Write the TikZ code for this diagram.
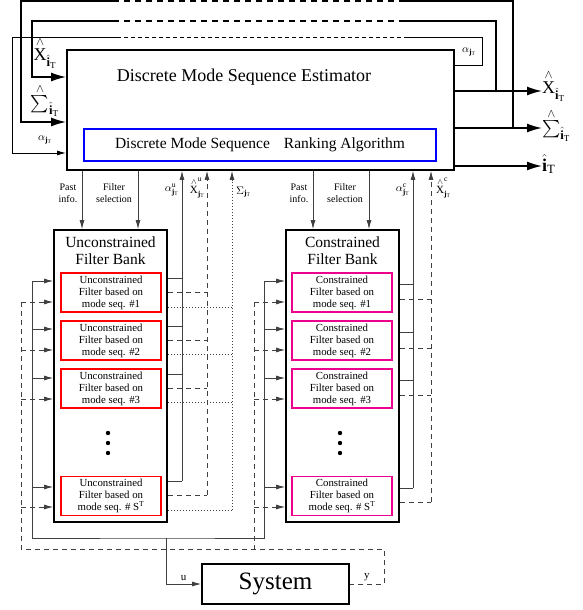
\documentclass[tikz,border=0pt]{standalone}
\usepackage{fontspec}
\setmainfont{Liberation Serif}
\usepackage{amsmath}
\usetikzlibrary{arrows.meta,positioning}
\newcommand{\hatc}[1]{\overset{\scriptstyle\wedge}{#1}}

\begin{document}
\begin{tikzpicture}[x=1pt,y=-1pt,
	box/.style={draw,line width=1.8pt,inner sep=0pt},
	ufilt/.style={draw=red,line width=1.1pt,minimum width=100pt,minimum height=39pt,inner sep=0pt,align=center,font=\fontsize{10.8}{12}\selectfont},
	cfilt/.style={ufilt,draw=magenta},
	sig/.style={draw=black!75,line width=0.8pt},
	dsh/.style={dash pattern=on 5pt off 4pt},
	dts/.style={dash pattern=on 1.5pt off 1.5pt},
	arr/.style={-{Latex[length=9pt,width=5pt]}},
	loopw/.style={line width=1.6pt},
	fat/.style={loopw,-{Latex[length=15pt,width=9pt]}},
	gap/.style={dash pattern=on 6pt off 5pt},
	lbl/.style={font=\fontsize{11}{12}\selectfont,inner sep=0pt},
	big/.style={font=\fontsize{18}{20}\selectfont,inner sep=0pt},
	small/.style={font=\fontsize{10}{12}\selectfont,align=center,inner sep=0pt}]
	\useasboundingbox (0,0) rectangle (582,610);

	\node[box,minimum width=387pt,minimum height=120pt] (est) at (260.5,110) {};
	\node[font=\fontsize{18}{20}\selectfont] (title) at (244,77) {Discrete Mode Sequence Estimator};
	\node[draw=blue,line width=1.1pt,minimum width=352pt,minimum height=32pt,font=\fontsize{15.5}{17}\selectfont] (rank) at (260,145) {Discrete Mode Sequence\hspace{14pt}Ranking Algorithm\hspace{15pt}};

	\node[box,minimum width=113pt,minimum height=292pt] (ubank) at (110.5,376) {};
	\node[box,minimum width=113pt,minimum height=292pt] (cbank) at (342.5,376) {};
	\node[align=center,font=\fontsize{15.5}{17}\selectfont] (utitle) at (110.5,251) {Unconstrained\\Filter Bank};
	\node[align=center,font=\fontsize{15.5}{17}\selectfont] (ctitle) at (342.5,251) {Constrained\\Filter Bank};
	\foreach \i/\y in {1/292.5,2/340.5,3/388.5}{
		\node[ufilt] (uf\i) at (111,\y) {Unconstrained\\Filter based on\\mode seq. \#\i};
		\node[cfilt] (cf\i) at (342,\y) {Constrained\\Filter based on\\mode seq. \#\i};
	}
	\node[ufilt] (uf4) at (111,496) {Unconstrained\\Filter based on\\mode seq. \# S$^{\mathrm{T}}$};
	\node[cfilt] (cf4) at (342,496) {Constrained\\Filter based on\\mode seq. \# S$^{\mathrm{T}}$};
	\foreach \y in {433,443,453}{
		\fill (108,\y) circle (2.2pt);
		\fill (340,\y) circle (2.2pt);
	}
	\node[box,minimum width=147pt,minimum height=40pt,font=\fontsize{25}{27}\selectfont] (sys) at (275.5,584) {System};

	% outputs and feedback
	\node[big,anchor=west] (oX) at (542,86) {$\hatc{\textrm{X}}_{\hat{\mathbf{i}}_\mathrm{T}}$};
	\node[big,anchor=west] (oS) at (542,125) {$\hatc{\sum}_{\hat{\mathbf{i}}_\mathrm{T}}$};
	\node[big,anchor=west] (oI) at (542,164) {$\hat{\mathbf{i}}_\mathrm{T}$};
	\node[big] (iX) at (45,53) {$\hatc{\textrm{X}}_{\hat{\mathbf{i}}_\mathrm{T}}$};
	\node[big] (iS) at (45,100) {$\hatc{\sum}_{\hat{\mathbf{i}}_\mathrm{T}}$};
	\node[lbl] (iA) at (45,140) {$\alpha_{\mathbf{j}_\mathrm{T}}$};
	\node[lbl] (oA) at (469,52) {$\alpha_{\mathbf{j}_\mathrm{T}}$};
	\draw[fat] (est.east |- 0,91) -- (oX.west |- 0,91);
	\draw[fat] (est.east |- 0,128) -- (oS.west |- 0,128);
	\draw[fat] (est.east |- 0,166) -- (oI.west |- 0,166);

	\coordinate (sR) at (513,1);  \coordinate (sRd) at (405,1);  \coordinate (sLd) at (117,1);  \coordinate (sL) at (21,1);
	\coordinate (xR) at (496,21); \coordinate (xRd) at (405,21); \coordinate (xLd) at (117,21); \coordinate (xL) at (32,21);
	\coordinate (aR) at (482,38); \coordinate (aRd) at (408,38); \coordinate (aLd) at (117,38); \coordinate (aL) at (12,38);
	\draw[loopw] (sR |- 0,128) -- (sR) -- (sRd);
	\draw[loopw,gap] (sRd) -- (sLd);
	\draw[fat] (sLd) -- (sL) |- (est.west |- 0,122);
	\draw[loopw] (xR |- 0,91) -- (xR) -- (xRd);
	\draw[loopw,gap] (xRd) -- (xLd);
	\draw[fat] (xLd) -- (xL) |- (est.west |- 0,77);
	\draw[line width=1pt] (est.east |- 0,66) -| (aR) -- (aRd);
	\draw[line width=1pt,dash pattern=on 4pt off 3pt] (aRd) -- (aLd);
	\draw[line width=1pt,arr] (aLd) -- (aL) |- (est.west |- 0,153);

	% estimator <-> filter banks
	\foreach \x in {82,138}
		\draw[sig,arr] (est.south -| \x,0) -- (ubank.north -| \x,0);
	\foreach \x in {313,369}
		\draw[sig,arr] (est.south -| \x,0) -- (cbank.north -| \x,0);
	\node[small] (past1) at (68,193) {Past\\info.};
	\node[small] (sel1) at (114,193) {Filter\\selection};
	\node[small] (past2) at (299,193) {Past\\info.};
	\node[small] (sel2) at (345,193) {Filter\\selection};

	\coordinate (uA) at (182,481); \coordinate (uX) at (207,495); \coordinate (uS) at (232,510);
	\coordinate (cA) at (413,488); \coordinate (cX) at (431,502);
	\draw[sig,arr] (uA) -- (est.south -| uA);
	\draw[sig,arr,dsh] (uX) -- (est.south -| uX);
	\draw[sig,arr,dts] (uS) -- (est.south -| uS);
	\draw[sig,arr] (cA) -- (est.south -| cA);
	\draw[sig,arr,dsh] (cX) -- (est.south -| cX);
	\node[lbl,anchor=east] (luA) at (179,190) {$\alpha^{\mathrm{u}}_{\mathbf{j}_\mathrm{T}}$};
	\node[lbl,anchor=east] (luX) at (205,188) {$\hatc{\textrm{X}}^{\mathrm{u}}_{\mathbf{j}_\mathrm{T}}$};
	\node[lbl,anchor=west] (luS) at (236,192) {$\Sigma_{\mathbf{j}_\mathrm{T}}$};
	\node[lbl,anchor=east] (lcA) at (410,190) {$\alpha^{\mathrm{c}}_{\mathbf{j}_\mathrm{T}}$};
	\node[lbl,anchor=west] (lcX) at (436,188) {$\hatc{\textrm{X}}^{\mathrm{c}}_{\mathbf{j}_\mathrm{T}}$};

	\foreach \y in {278,326,374,481}
		\draw[sig] (ubank.east |- 0,\y) -- (uA |- 0,\y);
	\foreach \y in {292,340,388,495}
		\draw[sig,dsh] (ubank.east |- 0,\y) -- (uX |- 0,\y);
	\foreach \y in {307,354,402,510}
		\draw[sig,dts] (ubank.east |- 0,\y) -- (uS |- 0,\y);
	\foreach \y in {284,332,380,488}
		\draw[sig] (cbank.east |- 0,\y) -- (cA |- 0,\y);
	\foreach \y in {299,348,395,502}
		\draw[sig,dsh] (cbank.east |- 0,\y) -- (cX |- 0,\y);

	% system <-> filter banks
	\coordinate (ubus) at (32,281); \coordinate (cbus) at (264,281);
	\coordinate (uin) at (21,302);  \coordinate (cin) at (254,302);
	\coordinate (ubot) at (166,538); \coordinate (ycorner) at (384,549);
	\draw[sig] (ubus) |- (ubot) -| (cbus);
	\draw[sig,arr] (ubot) |- node[pos=0.75,above=3pt,lbl] (lu) {u} (sys.west);
	\draw[sig,dsh] (uin) |- (ycorner) |- node[pos=0.75,above=3pt,lbl] (ly) {y} (sys.east);
	\draw[sig,dsh] (cin) -- (cin |- ycorner);
	\foreach \y in {281,329,378,487}{
		\draw[sig,arr] (ubus |- 0,\y) -- (ubank.west |- 0,\y);
		\draw[sig,arr] (cbus |- 0,\y) -- (cbank.west |- 0,\y);
	}
	\foreach \y in {302,350,399,507}{
		\draw[sig,arr,dsh] (uin |- 0,\y) -- (ubank.west |- 0,\y);
		\draw[sig,arr,dsh] (cin |- 0,\y) -- (cbank.west |- 0,\y);
	}
\end{tikzpicture}
\end{document}
